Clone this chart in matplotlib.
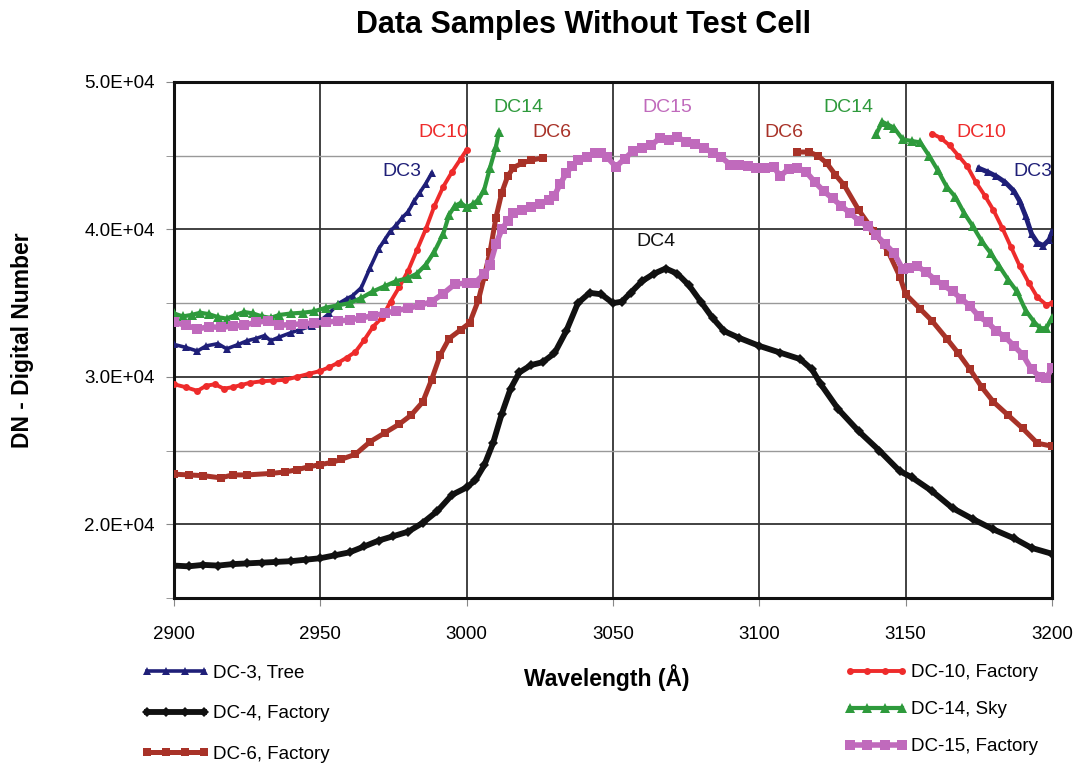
import numpy as np
import matplotlib
matplotlib.use("Agg")
import matplotlib.pyplot as plt
from matplotlib.ticker import MultipleLocator

plt.rcParams['font.family'] = ['Liberation Sans', 'DejaVu Sans']

# ---- data (wavelength in A, DN) ----
dc3_a_wl = [2900, 2904, 2908, 2911, 2915, 2918, 2922, 2925, 2928, 2931, 2933, 2936, 2940, 2943,
            2947, 2950, 2953, 2956, 2959, 2961, 2964, 2967, 2970, 2972, 2974, 2976, 2978, 2980,
            2982, 2984, 2986, 2988]
dc3_a_dn = [32200, 32000, 31750, 32100, 32250, 31900, 32200, 32450, 32600, 32800, 32450, 32700,
            33000, 33200, 33450, 33800, 34300, 34950, 35300, 35500, 36050, 37400, 38700, 39300,
            39900, 40300, 40800, 41200, 41900, 42500, 43100, 43800]
dc3_b_wl = [3175, 3178, 3181, 3184, 3187, 3189, 3191, 3193, 3195, 3197, 3199, 3200]
dc3_b_dn = [44150, 43900, 43600, 43200, 42600, 41900, 40900, 39700, 39100, 38900, 39300, 39800]

dc4_wl = [2900, 2905, 2910, 2915, 2920, 2925, 2930, 2935, 2940, 2945, 2950, 2955, 2960, 2965,
          2970, 2975, 2980, 2985, 2990, 2995, 3000, 3003, 3006, 3009, 3012, 3015, 3018, 3022,
          3026, 3030, 3034, 3038, 3042, 3046, 3050, 3053, 3056, 3060, 3064, 3068, 3072, 3076,
          3080, 3084, 3088, 3093, 3100, 3107, 3114, 3118, 3121, 3127, 3134, 3141, 3148, 3152,
          3159, 3166, 3173, 3180, 3187, 3193, 3200]
dc4_dn = [17200, 17150, 17250, 17200, 17300, 17350, 17400, 17450, 17500, 17600, 17700, 17900,
          18100, 18500, 18900, 19200, 19500, 20100, 20900, 22000, 22500, 23000, 24000, 25500,
          27500, 29200, 30300, 30800, 31000, 31600, 33100, 35000, 35700, 35600, 35000, 35100,
          35700, 36500, 37000, 37350, 37000, 36200, 35100, 34000, 33100, 32650, 32100, 31650,
          31200, 30500, 29500, 27800, 26300, 25000, 23600, 23200, 22250, 21100, 20350, 19650,
          19050, 18400, 18000]

dc6_a_wl = [2900, 2905, 2910, 2916, 2920, 2925, 2933, 2938, 2942, 2946, 2950, 2954, 2957, 2962,
            2967, 2972, 2977, 2981, 2985, 2988, 2991, 2994, 2998, 3001, 3004, 3006, 3008, 3010,
            3012, 3014, 3016, 3019, 3022, 3026]
dc6_a_dn = [23400, 23350, 23300, 23150, 23350, 23350, 23450, 23550, 23700, 23900, 24050, 24200,
            24400, 24750, 25600, 26200, 26800, 27400, 28300, 29800, 31500, 32600, 33200, 33650,
            35200, 36800, 38500, 40800, 42500, 43600, 44200, 44500, 44700, 44850]
dc6_b_wl = [3113, 3117, 3120, 3123, 3126, 3129, 3134, 3139, 3144, 3148, 3150, 3155, 3159, 3164,
            3168, 3172, 3176, 3180, 3185, 3190, 3195, 3200]
dc6_b_dn = [45250, 45250, 45000, 44500, 43700, 43000, 41300, 39900, 38500, 36800, 35600, 34600,
            33800, 32600, 31600, 30500, 29300, 28300, 27400, 26500, 25500, 25300]

dc10_a_wl = [2900, 2904, 2908, 2911, 2914, 2917, 2920, 2923, 2926, 2930, 2934, 2938, 2942, 2946,
             2950, 2953, 2956, 2959, 2962, 2965, 2968, 2971, 2974, 2977, 2980, 2983, 2986, 2989,
             2992, 2995, 2998, 3000]
dc10_a_dn = [29500, 29300, 29050, 29400, 29500, 29200, 29300, 29450, 29600, 29700, 29750, 29800,
             30000, 30200, 30400, 30650, 30950, 31300, 31700, 32500, 33400, 34000, 35100, 36100,
             37200, 38600, 40000, 41600, 42900, 43900, 44800, 45400]
dc10_b_wl = [3159, 3162, 3165, 3168, 3171, 3174, 3177, 3180, 3183, 3186, 3189, 3192, 3195, 3198, 3200]
dc10_b_dn = [46500, 46200, 45700, 45000, 44300, 43200, 42300, 41300, 40100, 38800, 37500, 36400,
             35400, 34900, 35000]

dc14_a_wl = [2900, 2903, 2906, 2909, 2912, 2915, 2918, 2921, 2924, 2927, 2930, 2933, 2936, 2940,
             2944, 2948, 2952, 2956, 2960, 2964, 2968, 2972, 2976, 2980, 2983, 2986, 2989, 2992,
             2994, 2996, 2998, 3000, 3002, 3004, 3006, 3008, 3010, 3011]
dc14_a_dn = [34300, 34100, 34200, 34350, 34250, 34050, 33950, 34200, 34400, 34300, 34100, 34000,
             34200, 34300, 34350, 34450, 34700, 34850, 35000, 35350, 35800, 36150, 36500, 36700,
             37000, 37600, 38500, 39700, 41000, 41600, 41800, 41500, 41700, 42000, 42700, 44200,
             45600, 46600]
dc14_b_wl = [3140, 3142, 3144, 3146, 3149, 3152, 3155, 3158, 3161, 3164, 3167, 3170, 3173, 3176,
             3179, 3182, 3185, 3188, 3191, 3194, 3196, 3198, 3200]
dc14_b_dn = [46500, 47300, 47100, 46900, 46100, 46000, 45900, 45000, 44000, 42900, 42200, 41100,
             40200, 39200, 38400, 37500, 36600, 35800, 34500, 33700, 33300, 33300, 34000]

dc15_wl = [2900, 2904, 2908, 2912, 2916, 2920, 2924, 2928, 2932, 2936, 2940, 2944, 2948, 2952,
           2956, 2960, 2964, 2968, 2972, 2976, 2980, 2984, 2988, 2992, 2996, 3000, 3003, 3006,
           3008, 3010, 3012, 3014, 3016, 3019, 3022, 3025, 3028, 3030, 3032, 3034, 3036, 3038,
           3041, 3044, 3046, 3048, 3051, 3054, 3057, 3060, 3063, 3066, 3069, 3072, 3075, 3078,
           3081, 3084, 3087, 3090, 3093, 3096, 3099, 3102, 3105, 3107, 3110, 3113, 3116, 3119,
           3122, 3125, 3128, 3131, 3134, 3137, 3140, 3143, 3146, 3149, 3151, 3154, 3157, 3160,
           3163, 3166, 3169, 3172, 3175, 3178, 3181, 3184, 3187, 3190, 3193, 3196, 3198, 3200]
dc15_dn = [33700, 33500, 33250, 33400, 33350, 33450, 33500, 33700, 33800, 33500, 33550, 33600,
           33650, 33700, 33800, 33850, 34000, 34150, 34300, 34500, 34650, 34850, 35100, 35650,
           36300, 36350, 36400, 37000, 37600, 39000, 40000, 40600, 41100, 41350, 41500, 41750,
           42000, 42300, 43100, 43800, 44300, 44700, 44900, 45200, 45200, 44900, 44250, 44800,
           45350, 45500, 45700, 46200, 46050, 46250, 45950, 45800, 45550, 45200, 44900, 44400,
           44400, 44300, 44200, 44200, 44250, 43600, 44100, 44200, 43900, 43200, 42600, 42100,
           41600, 41100, 40600, 40200, 39600, 39000, 38400, 37300, 37400, 37500, 37100, 36600,
           36200, 35800, 35300, 34800, 34100, 33700, 33100, 32700, 32100, 31500, 30500, 30000,
           29900, 30600]

# curve tags placed next to the curves
tags = [("DC3", 2978, 43900, '#1f1f78'), ("DC10", 2992, 46550, '#ee2b2b'),
        ("DC14", 3017.5, 48300, '#2e9a3c'), ("DC6", 3029, 46550, '#a83228'),
        ("DC15", 3068.4, 48300, '#c06abc'), ("DC4", 3064.7, 39200, '#111111'),
        ("DC6", 3108.4, 46550, '#a83228'), ("DC14", 3130.3, 48300, '#2e9a3c'),
        ("DC10", 3176, 46550, '#ee2b2b'), ("DC3", 3193.5, 43900, '#1f1f78')]

fig = plt.figure(figsize=(10.82, 7.67), dpi=100)
ax = fig.add_axes([0.1608, 0.2203, 0.8115, 0.6728])

def curve(wl, dn, color, marker, ms, label=None, lw=2.6):
    return ax.plot(wl, dn, color=color, lw=lw, marker=marker, ms=ms,
                   markeredgewidth=0, label=label, zorder=3)[0]

h3 = curve(dc3_a_wl, dc3_a_dn, '#1f1f78', '^', 5.5, 'DC-3, Tree')
curve(dc3_b_wl, dc3_b_dn, '#1f1f78', '^', 5.5, lw=3.5)
h4 = curve(dc4_wl, dc4_dn, '#111111', 'D', 5.0, 'DC-4, Factory', lw=4.2)
h6 = curve(dc6_a_wl, dc6_a_dn, '#a83228', 's', 5.5, 'DC-6, Factory', lw=3.6)
curve(dc6_b_wl, dc6_b_dn, '#a83228', 's', 5.5, lw=3.6)
h10 = curve(dc10_a_wl, dc10_a_dn, '#ee2b2b', 'o', 5.0, 'DC-10, Factory', lw=2.8)
curve(dc10_b_wl, dc10_b_dn, '#ee2b2b', 'o', 5.0, lw=2.8)
h14 = curve(dc14_a_wl, dc14_a_dn, '#2e9a3c', '^', 7.0, 'DC-14, Sky', lw=3.0)
curve(dc14_b_wl, dc14_b_dn, '#2e9a3c', '^', 7.0, lw=3.0)
h15 = curve(dc15_wl, dc15_dn, '#c06abc', 's', 6.5, 'DC-15, Factory', lw=4.0)

for txt, x, y, c in tags:
    ax.text(x, y, txt, color=c, fontsize=14, ha='center', va='center', zorder=4)

ax.set_xlim(2900, 3200)
ax.set_ylim(15000, 50000)
ax.xaxis.set_major_locator(MultipleLocator(50))
ax.yaxis.set_major_locator(MultipleLocator(10000))
ax.yaxis.set_minor_locator(MultipleLocator(5000))
ax.set_yticks([20000, 30000, 40000, 50000])
ax.yaxis.set_major_formatter(plt.FuncFormatter(lambda v, p: '%.1E' % v))
ax.grid(True, which='major', color='#333333', lw=1.3, zorder=1)
ax.grid(True, which='minor', axis='y', color='#999999', lw=1.0, zorder=1)
ax.set_axisbelow(True)
ax.tick_params(axis='both', which='both', direction='out', length=6, color='#888888',
               labelsize=13.5, pad=8)
ax.tick_params(axis='x', pad=14)
for s in ax.spines.values():
    s.set_linewidth(2.2)
    s.set_color('#111111')

fig.text(0.539, 0.968, 'Data Samples Without Test Cell', fontsize=22, fontweight='bold',
         ha='center', va='center')
fig.text(0.021, 0.556, 'DN - Digital Number', fontsize=16.5, fontweight='bold',
         rotation=90, ha='center', va='center')
fig.text(0.561, 0.117, 'Wavelength (Å)', fontsize=16.5, fontweight='bold',
         ha='center', va='center')

fig.legend(handles=[h3, h4, h6], loc='upper left', bbox_to_anchor=(0.131, 0.134),
           frameon=False, fontsize=13.5, handlelength=3.6, handletextpad=0.2,
           labelspacing=1.26, borderaxespad=0, borderpad=0, numpoints=4)
fig.legend(handles=[h10, h14, h15], loc='upper left', bbox_to_anchor=(0.780, 0.134),
           frameon=False, fontsize=13.5, handlelength=3.4, handletextpad=0.2,
           labelspacing=1.06, borderaxespad=0, borderpad=0, numpoints=4)

fig.savefig('out.png', dpi=100)
